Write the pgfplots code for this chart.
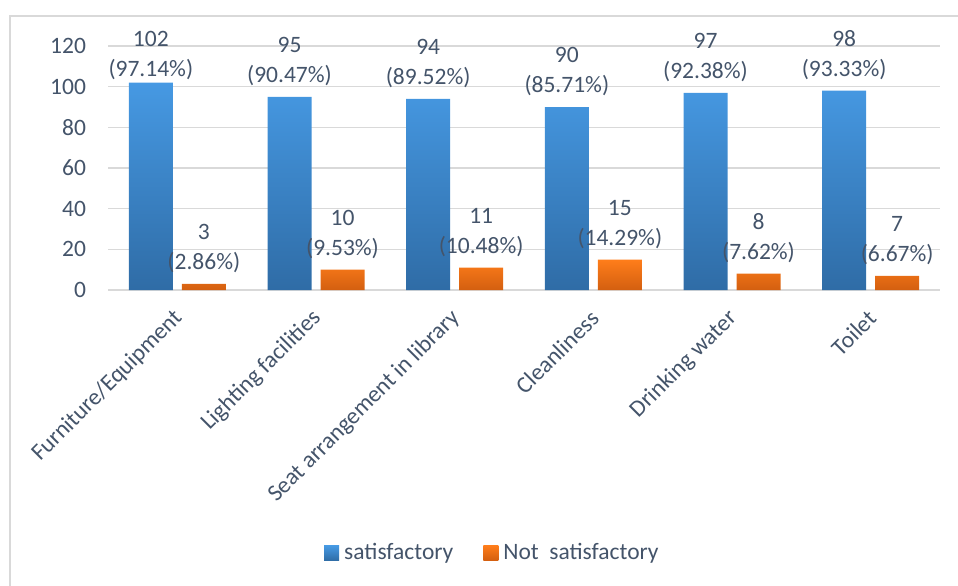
\documentclass[border=0pt]{standalone}
\usepackage{fontspec}
\setmainfont{Carlito}
\usepackage{pgfplots}
\pgfplotsset{compat=1.18}
\usepackage{pgfplotstable}

\definecolor{txt}{HTML}{44546A}
\definecolor{gridc}{HTML}{D9D9D9}
\definecolor{blueT}{HTML}{4699E3}
\definecolor{blueB}{HTML}{2F6CA6}
\definecolor{oranT}{HTML}{FF7D1A}
\definecolor{oranB}{HTML}{D35F10}

% x, count, label gap above bar (pt), label text
\pgfplotstableread{
x y dy lab
0 102 2.5 {102\\(97.14\%)}
1 95 11 {95\\(90.47\%)}
2 94 11 {94\\(89.52\%)}
3 90 11 {90\\(85.71\%)}
4 97 11 {97\\(92.38\%)}
5 98 11 {98\\(93.33\%)}
}\sat
\pgfplotstableread{
x y dy lab
0 3 11 {3\\(2.86\%)}
1 10 11 {10\\(9.53\%)}
2 11 11 {11\\(10.48\%)}
3 15 11 {15\\(14.29\%)}
4 8 11 {8\\(7.62\%)}
5 7 11 {7\\(6.67\%)}
}\notsat

\begin{document}
\fontsize{23.5}{30}\selectfont
\begin{tikzpicture}[x=1pt,y=1pt]
\path[use as bounding box] (0,0) rectangle (958,-586);
\begin{scope}
\clip (0,0) rectangle (958,-586);
\draw[gridc, line width=1.5pt] (10,-620) -- (10,-16) -- (1000,-16);
\end{scope}
\begin{axis}[
    at={(108pt,-290pt)}, anchor=south west,
    scale only axis,
    width=832pt, height=244pt,
    ybar,
    bar width=44pt,
    xmin=-0.5, xmax=5.5,
    ymin=0, ymax=120,
    ytick={0,20,...,120},
    xtick=data,
    xticklabels={Furniture/Equipment, Lighting facilities, Seat arrangement in library, Cleanliness, Drinking water, Toilet},
    /pgf/number format/assume math mode=true,
    ymajorgrids,
    grid style={gridc, line width=1.5pt},
    axis line style={draw=none},
    major tick length=0pt,
    tick label style={text=txt, font=\fontsize{23.5}{28}\selectfont},
    yticklabel style={xshift=-14pt},
    xticklabel style={xshift=7pt, yshift=-19pt, rotate=45, anchor=east},
    clip=false,
    point meta=explicit symbolic,
    nodes near coords,
    visualization depends on={\thisrow{dy} \as \dy},
    nodes near coords style={text=txt, align=center, anchor=south, inner sep=0pt,
        font=\fontsize{23.5}{30}\selectfont, yshift=\dy},
    legend style={draw=none, fill=none, at={(0.462,-1.078)}, anchor=center,
        legend columns=2, text=txt, font=\fontsize{23.5}{28}\selectfont,
        /tikz/every odd column/.append style={column sep=3pt},
        /tikz/every even column/.append style={column sep=28pt}},
    legend image code/.code={\draw[#1, draw=none] (0pt,-7.5pt) rectangle (15pt,7.5pt);},
]
\addplot[draw=none, top color=blueT, bottom color=blueB, bar shift=-26.5pt] table[x=x, y=y, meta=lab] {\sat};
\addplot[draw=none, top color=oranT, bottom color=oranB, bar shift=26.5pt] table[x=x, y=y, meta=lab] {\notsat};
\legend{satisfactory, Not\ \ satisfactory}
\end{axis}
\end{tikzpicture}
\end{document}
